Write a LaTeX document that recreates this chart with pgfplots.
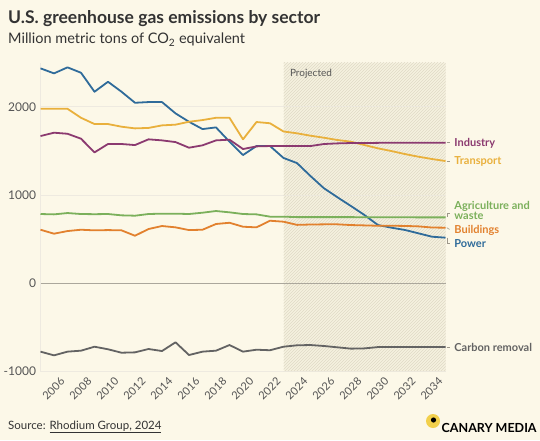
\documentclass[border=0pt]{standalone}
\usepackage{fontspec}
\setmainfont{Lato}
\usepackage{pgfplots}
\pgfplotsset{compat=1.18}
\usetikzlibrary{patterns}
\definecolor{bg}{HTML}{FCF8E8}
\definecolor{cblue}{HTML}{2F6B9A}
\definecolor{cyellow}{HTML}{E9B03C}
\definecolor{cpurple}{HTML}{8B3A70}
\definecolor{cgreen}{HTML}{7BB05B}
\definecolor{corange}{HTML}{E2812E}
\definecolor{cgrey}{HTML}{636363}
\definecolor{txt}{HTML}{555555}
\definecolor{ttl}{HTML}{333333}
\definecolor{gridc}{HTML}{EEEAE0}
\definecolor{projbg}{HTML}{F5F1E0}
\definecolor{hatch}{HTML}{E0DAC6}
\definecolor{zeroc}{HTML}{ABA79C}
\definecolor{logoy}{HTML}{F2D04B}
\begin{document}
\begin{tikzpicture}
\fill[bg] (0pt,0pt) rectangle (540pt,440pt);
\begin{axis}[
  at={(40.5pt,68.4pt)}, anchor=south west,
  scale only axis, width=405pt, height=309pt,
  xmin=2005, xmax=2035, ymin=-1000, ymax=2500,
  clip=false,
  axis line style={draw=none},
  major tick style={draw=none},
  ymajorgrids, grid style={gridc, line width=1pt},
  ytick={-1000,0,1000,2000},
  xtick={2006,2008,...,2034},
  /pgf/number format/1000 sep={},
  /pgf/number format/assume math mode=true,
  yticklabel style={font=\fontsize{12}{12}\selectfont, text=txt, xshift=-1pt},
  xticklabel style={font=\fontsize{11}{11}\selectfont, text=txt, rotate=45, anchor=north east, inner sep=1pt, xshift=1.5pt, yshift=-6.5pt},
  every axis plot/.append style={line width=1.8pt, line join=round},
]
\fill[projbg] (axis cs:2023,-1000) rectangle (axis cs:2035,2500);
\fill[pattern=north east lines, pattern color=hatch] (axis cs:2023,-1000) rectangle (axis cs:2035,2500);
\draw[gridc!85!hatch, line width=1pt] (axis cs:2023,1000) -- (axis cs:2035,1000);
\draw[gridc!85!hatch, line width=1pt] (axis cs:2023,2000) -- (axis cs:2035,2000);
\draw[gridc!85!hatch, line width=1pt] (axis cs:2023,-1000) -- (axis cs:2035,-1000);
\draw[gridc, line width=1pt] (axis cs:2005,-1000) -- (axis cs:2005,2500);
\draw[zeroc, line width=0.9pt] (axis cs:2005,0) -- (axis cs:2035,0);
\node[anchor=north west, font=\fontsize{10}{10}\selectfont, text=txt] at ([xshift=3pt,yshift=-3pt]axis cs:2023,2500) {Projected};

% Power
\addplot[cblue] coordinates {
(2005,2435)(2006,2378)(2007,2446)(2008,2385)(2009,2170)(2010,2283)(2011,2170)(2012,2045)(2013,2053)(2014,2053)
(2015,1925)(2016,1830)(2017,1747)(2018,1766)(2019,1604)(2020,1453)(2021,1555)(2022,1555)(2023,1420)(2024,1362)
(2025,1215)(2026,1076)(2027,974)(2028,875)(2029,773)(2030,660)(2031,630)(2032,604)(2033,566)(2034,528)(2035,517)};
% Transport
\addplot[cyellow] coordinates {
(2005,1977)(2006,1977)(2007,1977)(2008,1875)(2009,1804)(2010,1804)(2011,1774)(2012,1755)(2013,1760)(2014,1789)
(2015,1797)(2016,1830)(2017,1849)(2018,1875)(2019,1875)(2020,1631)(2021,1827)(2022,1813)(2023,1720)(2024,1699)
(2025,1672)(2026,1649)(2027,1623)(2028,1604)(2029,1566)(2030,1529)(2031,1498)(2032,1464)(2033,1434)(2034,1408)(2035,1385)};
% Industry
\addplot[cpurple] coordinates {
(2005,1668)(2006,1706)(2007,1694)(2008,1638)(2009,1483)(2010,1578)(2011,1578)(2012,1566)(2013,1631)(2014,1619)
(2015,1600)(2016,1536)(2017,1563)(2018,1619)(2019,1627)(2020,1521)(2021,1551)(2022,1555)(2023,1555)(2024,1555)
(2025,1555)(2026,1578)(2027,1585)(2028,1589)(2029,1589)(2030,1591)(2031,1593)(2032,1593)(2033,1593)(2034,1593)(2035,1593)};
% Agriculture and waste
\addplot[cgreen] coordinates {
(2005,785)(2006,781)(2007,796)(2008,785)(2009,783)(2010,785)(2011,770)(2012,766)(2013,785)(2014,789)
(2015,789)(2016,785)(2017,800)(2018,819)(2019,804)(2020,785)(2021,781)(2022,755)(2023,755)(2024,750)
(2025,750)(2026,750)(2027,750)(2028,750)(2029,748)(2030,748)(2031,748)(2032,748)(2033,747)(2034,747)(2035,747)};
% Buildings
\addplot[corange] coordinates {
(2005,607)(2006,562)(2007,592)(2008,607)(2009,600)(2010,603)(2011,600)(2012,539)(2013,615)(2014,649)
(2015,634)(2016,603)(2017,607)(2018,672)(2019,686)(2020,641)(2021,634)(2022,709)(2023,698)(2024,662)
(2025,666)(2026,668)(2027,668)(2028,660)(2029,656)(2030,652)(2031,652)(2032,650)(2033,645)(2034,632)(2035,630)};
% Carbon removal
\addplot[cgrey] coordinates {
(2005,-774)(2006,-816)(2007,-774)(2008,-763)(2009,-718)(2010,-747)(2011,-786)(2012,-782)(2013,-744)(2014,-767)
(2015,-668)(2016,-812)(2017,-774)(2018,-763)(2019,-699)(2020,-774)(2021,-752)(2022,-758)(2023,-718)(2024,-702)
(2025,-699)(2026,-710)(2027,-725)(2028,-740)(2029,-737)(2030,-722)(2031,-722)(2032,-722)(2033,-722)(2034,-722)(2035,-722)};

\begin{scope}[font=\bfseries\fontsize{11}{11}\selectfont]
\node[anchor=west, text=cpurple] at (axis cs:2035.4,1589) {Industry};
\node[anchor=west, text=cyellow] at (axis cs:2035.4,1385) {Transport};
\node[anchor=west, text=cgreen, align=left, inner sep=0pt] at ([xshift=3.3pt]axis cs:2035.4,825) {Agriculture and\\[-1pt]waste};
\node[anchor=west, text=corange] at (axis cs:2035.4,604) {Buildings};
\node[anchor=west, text=cblue] at (axis cs:2035.4,445) {Power};
\node[anchor=west, text=cgrey] at (axis cs:2035.4,-721) {Carbon removal};
\end{scope}
\begin{scope}[line width=0.6pt, hatch!70!black]
\draw (axis cs:2035.1,1593) -- (axis cs:2035.3,1593);
\draw (axis cs:2035.1,1385) -- (axis cs:2035.3,1385);
\draw (axis cs:2035.3,790) -- (axis cs:2035.1,790) -- (axis cs:2035.1,747);
\draw (axis cs:2035.1,630) -- (axis cs:2035.3,610);
\draw (axis cs:2035.1,517) -- (axis cs:2035.1,450) -- (axis cs:2035.3,450);
\draw (axis cs:2035.1,-722) -- (axis cs:2035.3,-722);
\end{scope}
\end{axis}
\node[anchor=base west, font=\bfseries\fontsize{17.5}{17.5}\selectfont, text=ttl, inner sep=0pt] at (8pt,416pt) {U.S. greenhouse gas emissions by sector};
\node[anchor=base west, font=\fontsize{14.5}{14.5}\selectfont, text=ttl, inner sep=0pt] at (8pt,396pt) {Million metric tons of CO\textsubscript{2} equivalent};
\node[anchor=base west, font=\fontsize{11.5}{11.5}\selectfont, text=ttl, inner sep=0pt] at (8pt,11pt) {Source: \underline{Rhodium Group, 2024}};
\fill[logoy] (433pt,19pt) circle (7pt);
\fill[black] (433.5pt,20pt) circle (2.6pt);
\node[anchor=base west, font=\bfseries\fontsize{12.5}{12.5}\selectfont, text=black, inner sep=0pt] at (441.5pt,8pt) {CANARY MEDIA};
\end{tikzpicture}
\end{document}
